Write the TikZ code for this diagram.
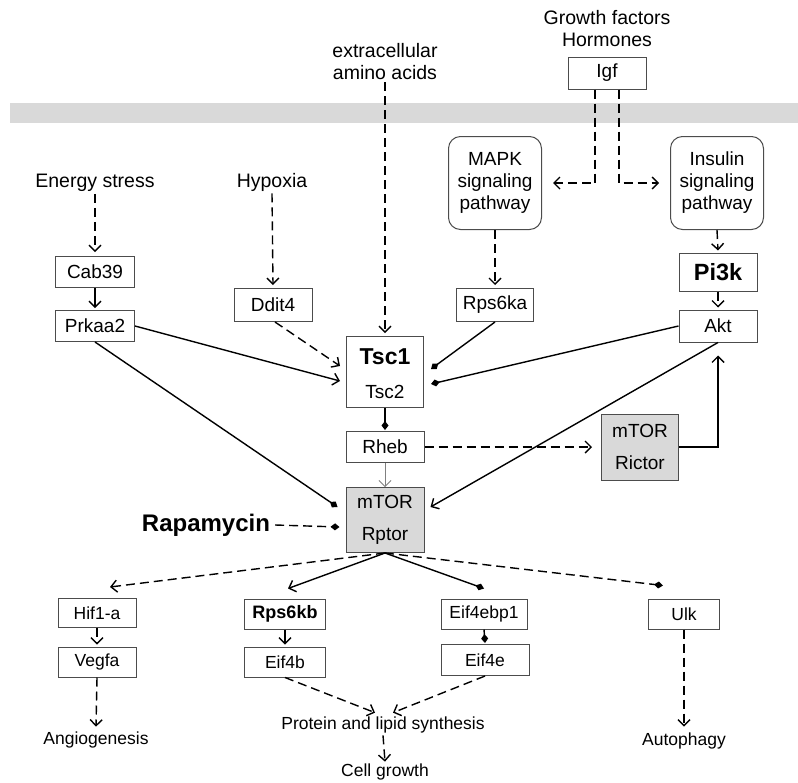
\documentclass[tikz,border=0pt]{standalone}
\usepackage{fontspec}
\setmainfont{Liberation Sans}
\usetikzlibrary{arrows.meta}

\begin{document}
\begin{tikzpicture}[x=1pt, y=-1pt,
    box/.style={draw=black!70, line width=1pt, inner sep=0pt, align=center,
        font=\fontsize{19}{22}\selectfont},
    lowbox/.style={box, font=\fontsize{17.5}{20}\selectfont},
    lbl/.style={inner sep=2pt, align=center, font=\fontsize{19.5}{22}\selectfont},
    lowlbl/.style={inner sep=2pt, font=\fontsize{17.5}{20}\selectfont},
    act/.style={-{Straight Barb[length=6pt,width=12pt]}, line width=1.4pt},
    inh/.style={-{Diamond[length=9pt,width=7pt]}, line width=1.4pt},
    dsh/.style={dash pattern=on 9pt off 5pt}]
    \useasboundingbox (0,0) rectangle (798,782);

    % 1. Membrane
    \fill[black!15] (10,103) rectangle (798,123);

    % 2. Signals outside and upstream nodes
    \node[lbl] (growth) at (607,29) {Growth factors\\Hormones};
    \node[box, minimum width=78pt, minimum height=32pt] (igf) at (607,73) {Igf};
    \node[lbl] (amino) at (385,62) {extracellular\\amino acids};
    \node[box, rounded corners=12pt, minimum width=93pt, minimum height=93pt] (mapk) at (495,183) {MAPK\\signaling\\pathway};
    \node[box, rounded corners=12pt, minimum width=93pt, minimum height=93pt] (insulin) at (717,183) {Insulin\\signaling\\pathway};
    \node[lbl] (energy) at (95,183) {Energy stress};
    \node[lbl] (hypoxia) at (272,182) {Hypoxia};
    \node[box, minimum width=79pt, minimum height=31pt] (cab) at (95,272) {Cab39};
    \node[box, minimum width=79pt, minimum height=31pt] (prkaa) at (95,326) {Prkaa2};
    \node[box, minimum width=78pt, minimum height=33pt] (ddit) at (273,305) {Ddit4};
    \node[box, minimum width=77pt, minimum height=33pt] (rps6ka) at (495,305) {Rps6ka};
    \node[box, minimum width=78pt, minimum height=38pt, font=\fontsize{23.5}{26}\selectfont\bfseries] (pik) at (718,272) {Pi3k};
    \node[box, minimum width=78pt, minimum height=32pt] (akt) at (718,326) {Akt};

    % 3. Tsc, Rheb and the two mTOR complexes
    \node[box, minimum width=77pt, minimum height=71pt] (tsc) at (385,372) {};
    \node[font=\fontsize{23}{23}\selectfont\bfseries] (tscA) at (385,357) {Tsc1};
    \node[font=\fontsize{19}{22}\selectfont] (tscB) at (385,392) {Tsc2};
    \node[box, minimum width=78pt, minimum height=31pt] (rheb) at (385,447) {Rheb};
    \node[box, fill=black!15, minimum width=78pt, minimum height=65pt] (rptor) at (385,520) {mTOR\\[10pt]Rptor};
    \node[box, fill=black!15, minimum width=77pt, minimum height=66pt] (rictor) at (640,447) {mTOR\\[10pt]Rictor};
    \node[inner sep=2pt, font=\fontsize{24}{24}\selectfont\bfseries] (rapa) at (206,525) {Rapamycin};

    % 4. Downstream nodes
    \node[lowbox, minimum width=78pt, minimum height=29pt] (hif) at (97,613) {Hif1-a};
    \node[lowbox, minimum width=78pt, minimum height=30pt] (vegfa) at (97,662) {Vegfa};
    \node[lowbox, minimum width=81pt, minimum height=30pt, font=\fontsize{18}{20}\selectfont\bfseries] (rps6kb) at (285,614) {Rps6kb};
    \node[lowbox, minimum width=81pt, minimum height=30pt] (eifb) at (285,662) {Eif4b};
    \node[lowbox, minimum width=86pt, minimum height=30pt] (eifbp) at (484,614) {Eif4ebp1};
    \node[lowbox, minimum width=88pt, minimum height=31pt] (eife) at (485,660) {Eif4e};
    \node[lowbox, minimum width=71pt, minimum height=30pt] (ulk) at (684,614) {Ulk};
    \node[lowlbl] (angio) at (96,740) {Angiogenesis};
    \node[lowlbl] (protein) at (383,725) {Protein and lipid synthesis};
    \node[lowlbl] (cell) at (385,772) {Cell growth};
    \node[lowlbl] (autophagy) at (684,741) {Autophagy};

    % 5. Connectors above mTOR
    \draw[act, dsh] ([xshift=-12pt]igf.south) |- ([xshift=11pt]mapk.east);
    \draw[act, dsh] ([xshift=12pt]igf.south) |- ([xshift=-11pt]insulin.west);
    \draw[act, dsh] (mapk.south) -- ([yshift=3pt]rps6ka.north);
    \draw[act, dsh] (insulin.south) -- ([yshift=2pt]pik.north);
    \draw[act, dsh] (pik.south) -- ([yshift=2pt]akt.north);
    \draw[act, dsh] (energy.south) -- ([yshift=4pt]cab.north);
    \draw[act] (cab.south) -- ([yshift=2pt]prkaa.north);
    \draw[act, dsh] (hypoxia.south) -- ([yshift=3pt]ddit.north);
    \draw[act, dsh] (amino.south) -- ([yshift=3pt]tsc.north);
    \draw[act, dsh] ([xshift=2pt]ddit.south) -- ([xshift=-6pt,yshift=6pt]tsc.west);
    \draw[act] (prkaa.east) -- ([xshift=-6pt,yshift=-9pt]tsc.west);
    \draw[inh] (prkaa.south) -- ([xshift=-8pt,yshift=13pt]rptor.west);
    \draw[inh] (rps6ka.south) -- ([xshift=7pt,yshift=3pt]tsc.east);
    \draw[inh] (akt.west) -- ([xshift=7pt,yshift=-12pt]tsc.east);
    \draw[inh] (tsc.south) -- ([yshift=1pt]rheb.north);
    \draw[act, gray, line width=0.8pt] (rheb.south) -- (rptor.north);
    \draw[act, dsh] (rheb.east) -- ([xshift=-9pt]rictor.west);
    \draw[act] (rictor.east) -| ([yshift=-13pt]akt.south);
    \draw[act] (akt.south) -- ([xshift=6pt,yshift=13pt]rptor.east);
    \draw[inh, dsh] ([xshift=3pt]rapa.east) -- ([xshift=-6pt,yshift=-7pt]rptor.west);

    % 6. Connectors below mTOR
    \draw[act, dsh] (rptor.south) -- ([xshift=13pt,yshift=11pt]hif.north);
    \draw[act] (rptor.south) -- ([xshift=3pt,yshift=10pt]rps6kb.north);
    \draw[inh] (rptor.south) -- ([yshift=10pt]eifbp.north);
    \draw[inh, dsh] (rptor.south) -- ([xshift=-21pt,yshift=13pt]ulk.north);
    \draw[act, dsh] (hif.south) -- ([yshift=2pt]vegfa.north);
    \draw[act, dsh] (vegfa.south) -- ([yshift=3pt]angio.north);
    \draw[act] (rps6kb.south) -- ([yshift=2pt]eifb.north);
    \draw[inh] (eifbp.south) -- ([yshift=1pt]eife.north);
    \draw[act, dsh] (eifb.south) -- ([xshift=-8pt,yshift=2pt]protein.north);
    \draw[act, dsh] (eife.south) -- ([xshift=10pt,yshift=2pt]protein.north);
    \draw[act, dsh] (protein.south) -- (cell.north);
    \draw[act, dsh] (ulk.south) -- ([yshift=4pt]autophagy.north);

\end{tikzpicture}
\end{document}
